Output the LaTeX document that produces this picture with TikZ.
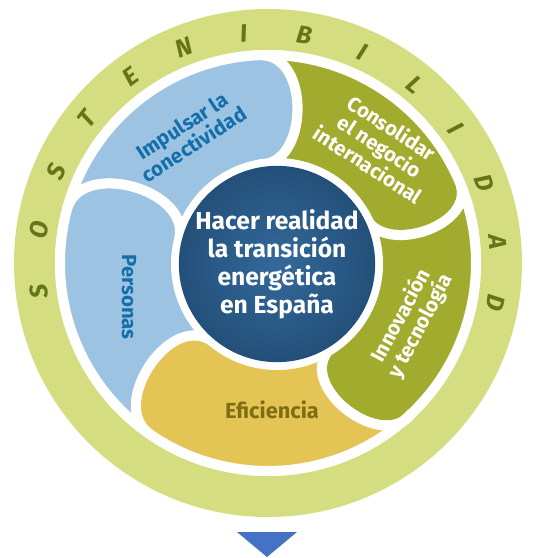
\documentclass[tikz,border=0pt]{standalone}
\usepackage{fontspec}
\setmainfont{Fira Sans}
\usepackage{tikz}
\usetikzlibrary{calc}
\definecolor{ringgreen}{HTML}{D4DE80}
\definecolor{ringtext}{HTML}{65761A}
\definecolor{paleblue}{HTML}{9DC3E2}
\definecolor{olivegreen}{HTML}{A1AB2D}
\definecolor{mustard}{HTML}{E4C454}
\definecolor{deepblue}{HTML}{146EAA}
\definecolor{darkolive}{HTML}{7D6E14}
\definecolor{hubblue}{HTML}{33699A}
\definecolor{hubdark}{HTML}{23507A}
\definecolor{arrowblue}{HTML}{4472C4}

\begin{document}
\begin{tikzpicture}[x=0.5pt,y=0.5pt,
    piece/.style={draw=white, line width=5pt, line join=round},
    piecetext/.style={font=\bfseries\fontsize{10.2}{11}\selectfont, align=center, inner sep=0pt},
    ringletter/.style={font=\bfseries\itshape\fontsize{12.5}{14}\selectfont, text=ringtext, inner sep=0pt}]

% Frame
\useasboundingbox (-268,-295) rectangle (268,263);

% Ring
\fill[ringgreen] (0,0) circle[radius=254];
\fill[white] (0,0) circle[radius=213];

% Letters
\foreach \l [count=\k from 0] in {S,O,S,T,E,N,I,B,I,L,I,D,A,D}
{
    \pgfmathsetmacro\a{187-\k*15.15}
    \node[ringletter, rotate=\a-90] (ring\k) at (\a:231) {\l};
}

% Ends of the pieces
\coordinate (C) at (9,-1);
\foreach \n/\t/\p in {1/164.9/166.5, 2/91.7/100, 3/22/30, 4/-46.5/-60, 5/-124.5/-131}
{
    \coordinate (o\n) at (\t:208);
    \coordinate (i\n) at ($(C)+(\p:101)$);
}

% Pieces
\foreach \n/\m/\ta/\tb/\ia/\ib/\col in {1/2/164.9/91.7/166.5/100/paleblue,
    2/3/91.7/22/100/30/olivegreen, 3/4/22/-46.5/30/-60/olivegreen,
    4/5/-46.5/-124.5/-60/-131/mustard, 5/1/235.5/164.9/229/166.5/paleblue}
{
    \filldraw[piece, fill=\col] (o\n) arc[start angle=\ta, end angle=\tb, radius=208]
        .. controls ($(o\m)!0.45!90:(i\m)$) and ($(i\m)!0.45!-90:(o\m)$) .. (i\m)
        arc[start angle=\ib, end angle=\ia, radius=101]
        .. controls ($(i\n)!0.45!-90:(o\n)$) and ($(o\n)!0.45!90:(i\n)$) .. (o\n) -- cycle;
}

% Hub
\node[circle, minimum size=98pt, inner sep=0pt, shade, inner color=hubblue, outer color=hubdark,
    text=white, align=center, font=\bfseries\fontsize{12.3}{14}\selectfont] (hub) at (C)
    {Hacer realidad\\la transición\\energética\\en España};

% Labels
\node[piecetext, text=deepblue, rotate=33] (conect) at (-80,128) {Impulsar la\\conectividad};
\node[piecetext, text=white, rotate=-33] (negocio) at (112,117) {Consolidar\\el negocio\\internacional};
\node[piecetext, text=white, rotate=62] (innov) at (143,-58) {Innovación\\y tecnología};
\node[piecetext, text=darkolive, font=\bfseries\fontsize{10.9}{12}\selectfont] (efic) at (4,-147) {Eficiencia};
\node[piecetext, text=deepblue, rotate=-90] (personas) at (-139,-34) {Personas};

% Arrow
\fill[arrowblue] (-31,-269) -- (29,-269) -- (-1,-294) -- cycle;

\end{tikzpicture}
\end{document}
